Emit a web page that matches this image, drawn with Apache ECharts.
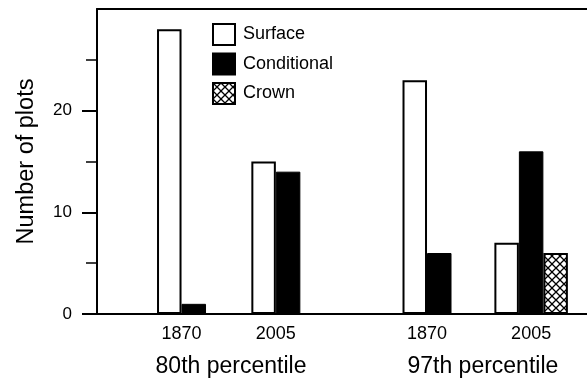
<!DOCTYPE html>
<html>
<head>
<meta charset="utf-8">
<script src="https://cdn.jsdelivr.net/npm/echarts@6/dist/echarts.min.js"></script>
<style>
	html, body { margin: 0; padding: 0; background: #fff; }
	#chart { width: 587px; height: 381px; }
</style>
</head>
<body>
<div id="chart"></div>
<script>
// data
var groupLabels = ['1870', '2005', '1870', '2005'];
var groupPos = [3.45, 7.3, 13.47, 17.72];
var percentileLabels = ['80th percentile', '97th percentile'];
var percentilePos = [5.47, 15.75];
var seriesNames = ['Surface', 'Conditional', 'Crown'];
var surface = [28, 15, 23, 7];
var conditional = [1, 14, 6, 16];
var crown = [null, null, null, 6];
var yTicks = [0, 10, 20];

var font = 'Liberation Sans, Arial, Helvetica, sans-serif';

// crosshatch fill for the Crown bars
function hatch(){
	var c = document.createElement('canvas');
	c.width = 8; c.height = 8;
	var ctx = c.getContext('2d');
	ctx.fillStyle = '#fff';
	ctx.fillRect(0, 0, 8, 8);
	ctx.strokeStyle = '#000';
	ctx.lineWidth = 1.3;
	ctx.beginPath();
	ctx.moveTo(0, 0); ctx.lineTo(8, 8);
	ctx.moveTo(8, 0); ctx.lineTo(0, 8);
	ctx.stroke();
	return c;
}

// bars sit side by side around each group's centre, one unit wide
var all = [surface, conditional, crown];
var barData = [[], [], []];
groupPos.forEach(function(c, g){
	var present = [];
	all.forEach(function(arr, s){ if(arr[g] != null) present.push(s); });
	present.forEach(function(s, k){
		barData[s].push([c - (present.length - 1) / 2 + k, all[s][g]]);
	});
});

function labelAt(pos, labels){
	return function(v){
		for(var i = 0; i < pos.length; i++){
			if(Math.abs(pos[i] - v) < 1e-6) return labels[i];
		}
		return '';
	};
}

var chart = echarts.init(document.getElementById('chart'));
var option = {
	animation: false,
	grid: { left: 97, right: 0, top: 9, bottom: 67, containLabel: false },
	legend: {
		data: seriesNames,
		orient: 'vertical',
		left: 212,
		top: 23,
		padding: 0,
		icon: 'rect',
		itemWidth: 22,
		itemHeight: 21,
		itemGap: 6.5,
		textStyle: { fontFamily: font, fontSize: 18, color: '#000', padding: [0, 0, 0, 3] }
	},
	xAxis: [
		{
			type: 'value', min: 0, max: 20, position: 'bottom',
			axisLine: { show: true, lineStyle: { color: '#000', width: 2 } },
			axisTick: { show: false },
			splitLine: { show: false },
			axisLabel: {
				customValues: groupPos,
				formatter: labelAt(groupPos, groupLabels),
				fontFamily: font, fontSize: 18, color: '#000', margin: 11
			}
		},
		{
			type: 'value', min: 0, max: 20, position: 'bottom',
			axisLine: { show: false },
			axisTick: { show: false },
			splitLine: { show: false },
			axisLabel: {
				customValues: percentilePos,
				formatter: labelAt(percentilePos, percentileLabels),
				fontFamily: font, fontSize: 23, color: '#000', margin: 41
			}
		},
		{
			type: 'value', min: 0, max: 20, position: 'top',
			axisLine: { show: true, lineStyle: { color: '#000', width: 2 } },
			axisTick: { show: false },
			axisLabel: { show: false },
			splitLine: { show: false }
		}
	],
	yAxis: {
		type: 'value', min: 0, max: 30, interval: 10,
		name: 'Number of plots',
		nameLocation: 'middle',
		nameGap: 58,
		nameTextStyle: { fontFamily: font, fontSize: 23.5, color: '#000' },
		axisLine: { show: true, lineStyle: { color: '#000', width: 2 } },
		axisTick: { show: true, customValues: yTicks, length: 15, lineStyle: { color: '#000', width: 2 } },
		minorTick: { show: true, splitNumber: 2, length: 11, lineStyle: { color: '#000', width: 1.5 } },
		splitLine: { show: false },
		axisLabel: {
			customValues: yTicks,
			fontFamily: font, fontSize: 17, color: '#000', margin: 25
		}
	},
	series: [
		{
			name: 'Surface', type: 'bar', xAxisIndex: 0,
			data: barData[0], barWidth: 24.5, barGap: '-100%',
			itemStyle: { color: '#fff', borderColor: '#000', borderWidth: 2 }
		},
		{
			name: 'Conditional', type: 'bar', xAxisIndex: 0,
			data: barData[1], barWidth: 24.5, barGap: '-100%',
			itemStyle: { color: '#000', borderColor: '#000', borderWidth: 1 }
		},
		{
			name: 'Crown', type: 'bar', xAxisIndex: 0,
			data: barData[2], barWidth: 24.5, barGap: '-100%',
			itemStyle: { color: { image: hatch(), repeat: 'repeat' }, borderColor: '#000', borderWidth: 2 }
		}
	]
};
chart.setOption(option);
</script>
</body>
</html>
